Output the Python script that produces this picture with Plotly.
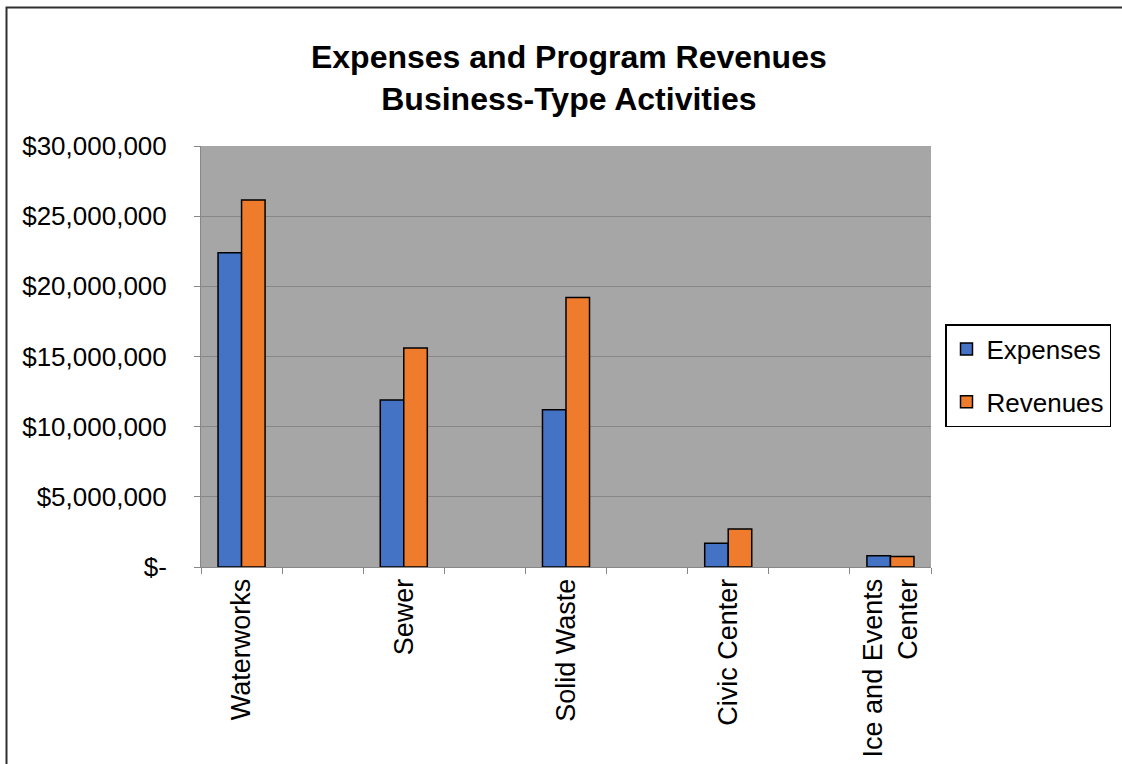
import plotly.graph_objects as go

categories = ["Waterworks", " ", "Sewer", "  ", "Solid Waste", "   ", "Civic Center", "    ", "Ice and Events<br>Center"]
expenses = [22.4e6, None, 11.9e6, None, 11.2e6, None, 1.7e6, None, 0.8e6]
revenues = [26.15e6, None, 15.6e6, None, 19.2e6, None, 2.7e6, None, 0.75e6]
y_tickvals = [0, 5e6, 10e6, 15e6, 20e6, 25e6, 30e6]
y_ticktext = ["$-", "$5,000,000", "$10,000,000", "$15,000,000", "$20,000,000", "$25,000,000", "$30,000,000"]

FONT = "Liberation Sans, Arial, sans-serif"

fig = go.Figure()
fig.add_trace(go.Bar(x=categories, y=expenses, name="Expenses", legendgroup="e",
                     marker=dict(color="#4472C4", line=dict(color="black", width=1.5))))
fig.add_trace(go.Bar(x=categories, y=revenues, name="Revenues", legendgroup="r",
                     marker=dict(color="#EF7B2D", line=dict(color="black", width=1.5))))

fig.update_layout(
    width=1122, height=764,
    margin=dict(l=201, r=191, t=146, b=197),
    paper_bgcolor="white", plot_bgcolor="#A6A6A6",
    font=dict(family=FONT, size=26, color="black"),
    title=dict(text="<b>Expenses and Program Revenues<br>Business-Type Activities</b>",
               x=0.507, xanchor="center", y=1 - 68 / 764, yanchor="top",
               font=dict(family=FONT, size=32, color="black")),
    barmode="group", bargap=0.42, bargroupgap=0,
    showlegend=True,
    legend=dict(xref="container", yref="container",
                x=945 / 1122, xanchor="left", y=1 - 324 / 764, yanchor="top",
                bordercolor="black", borderwidth=1.5, bgcolor="white",
                font=dict(family=FONT, size=26), tracegroupgap=16,
                traceorder="grouped"),
    xaxis=dict(type="category", tickson="boundaries", ticks="outside", ticklen=6,
               tickcolor="#878787", showline=True, linecolor="#878787", linewidth=1,
               tickangle=-90, showgrid=False, automargin=False,
               tickfont=dict(family=FONT, size=27)),
    yaxis=dict(range=[0, 30e6], tickvals=y_tickvals, ticktext=y_ticktext,
               ticks="outside", ticklen=6, tickcolor="#878787",
               showline=True, linecolor="#878787", linewidth=1,
               showgrid=True, gridcolor="#878787", gridwidth=1,
               zeroline=False, ticklabelstandoff=22, automargin=False,
               tickfont=dict(family=FONT, size=26)),
)

# Outer chart border
fig.add_shape(type="rect", xref="paper", yref="paper",
              x0=(6.5 - 201) / 730, x1=(1130 - 201) / 730,
              y0=(567 - 780) / 421, y1=(567 - 7.5) / 421,
              line=dict(color="#303030", width=2), fillcolor="rgba(0,0,0,0)", layer="above")

fig.write_html("out.html")
